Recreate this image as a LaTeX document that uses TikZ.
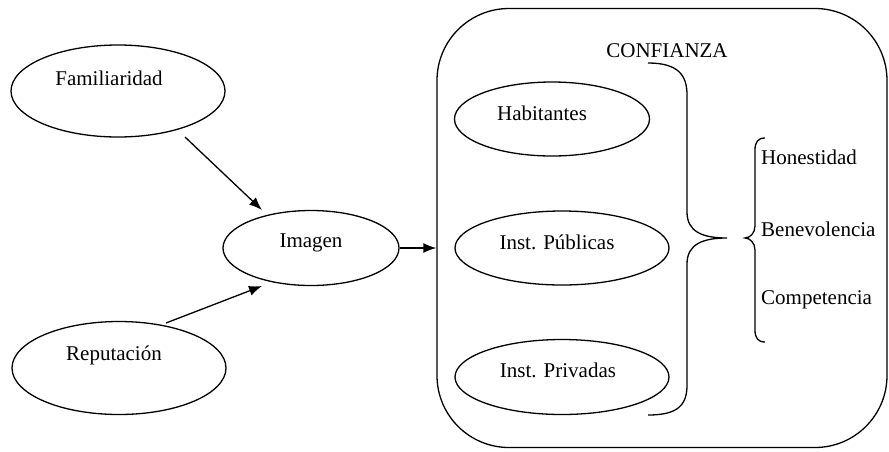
\documentclass[tikz,border=0pt]{standalone}
\usepackage{fontspec}
\setmainfont{Liberation Serif}
\usetikzlibrary{shapes.geometric,arrows.meta,calc}
\begin{document}
\begin{tikzpicture}[x=1pt,y=-1pt,
  ell/.style={draw,ellipse,line width=1.3pt,inner sep=0pt},
  lbl/.style={font=\fontsize{21}{25}\selectfont,inner sep=0pt},
  arr/.style={line width=1.3pt,-{Latex[length=13pt,width=10pt]}},
  brace/.style={line width=1.3pt}]
\useasboundingbox (0,0) rectangle (889,451);
% outer rounded box
\node[draw,line width=1.3pt,rounded corners=72pt,minimum width=450pt,minimum height=439pt,inner sep=0pt] (box) at (662,228) {};
% left ellipses
\node[ell,minimum width=214pt,minimum height=92pt] (fam) at (118,91) {};
\node[lbl] (famt) at (109,78) {Familiaridad};
\node[ell,minimum width=176pt,minimum height=75pt] (img) at (311,248) {};
\node[lbl] (imgt) at (311,243) {Imagen};
\node[ell,minimum width=214pt,minimum height=93pt] (rep) at (119,368) {};
\node[lbl] (rept) at (114,355) {Reputación};
% inner ellipses
\node[ell,minimum width=195pt,minimum height=74pt] (hab) at (552,119) {};
\node[lbl] (habt) at (542,113) {Habitantes};
\node[ell,minimum width=214pt,minimum height=74pt] (pub) at (562,248) {};
\node[lbl] (pubt) at (557,242) {Inst. Públicas};
\node[ell,minimum width=214pt,minimum height=75pt] (pri) at (562,377) {};
\node[lbl] (prit) at (558,370) {Inst. Privadas};
% labels
\node[lbl] (conf) at (667,51) {CONFIANZA};
\node[lbl,anchor=west] (hon) at (761,157) {Honestidad};
\node[lbl,anchor=west] (ben) at (761,229) {Benevolencia};
\node[lbl,anchor=west] (com) at (761,300) {Competencia};
% arrows
\draw[arr] ($(fam.center)+(67,46)$) -- ($(img.center)+(-49,-38)$);
\draw[arr] ($(rep.center)+(47,-45)$) -- ($(img.center)+(-49,38)$);
\draw[arr] (img.east) -- (img.east -| box.west);
% big brace
\draw[brace] (648,63) .. controls (678,63) and (687,75) .. (687,95) -- (687,212)
  .. controls (687,232) and (703,238) .. (727,238)
  .. controls (703,238) and (687,244) .. (687,264) -- (687,385)
  .. controls (687,405) and (678,415) .. (648,415);
% small brace
\draw[brace] (765,138) .. controls (758,138) and (755,142) .. (755,150) -- (755,226)
  .. controls (755,233) and (750,238) .. (745,238)
  .. controls (750,238) and (755,243) .. (755,250) -- (755,330)
  .. controls (755,338) and (758,342) .. (765,342);
\end{tikzpicture}
\end{document}
